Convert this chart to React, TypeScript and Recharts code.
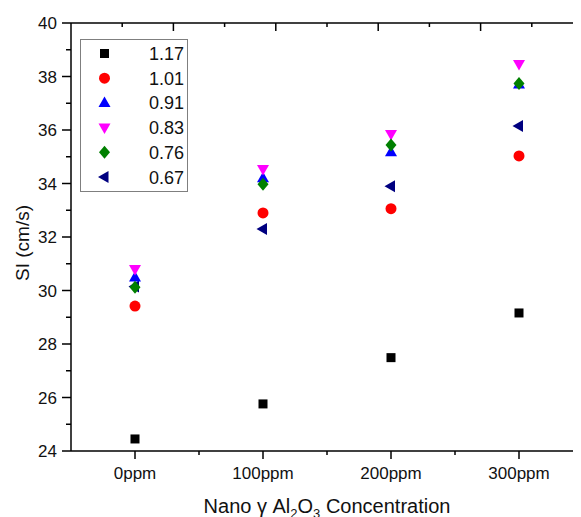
import { ScatterChart, Scatter, XAxis, YAxis, Legend, Label } from 'recharts';

// concentrations on the x axis (index = position)
const concentrations = ['0ppm', '100ppm', '200ppm', '300ppm'];
const seriesNames = ['1.17', '1.01', '0.91', '0.83', '0.76', '0.67'];

// SI values (cm/s) read per concentration
const si117 = [24.45, 25.76, 27.49, 29.16];
const si101 = [29.42, 32.9, 33.06, 35.03];
const si091 = [30.49, 34.2, 35.17, 37.7];
const si083 = [30.8, 34.54, 35.85, 38.47];
const si076 = [30.12, 33.97, 35.44, 37.74];
const si067 = [30.15, 32.3, 33.9, 36.15];

const xDomain = [-0.5, 3.5];
const yDomain = [24, 40];
const xTicks = [0, 0.5, 1, 1.5, 2, 2.5, 3];
const yTicks = [24, 25, 26, 27, 28, 29, 30, 31, 32, 33, 34, 35, 36, 37, 38, 39, 40];
// top / right frame carry their own unlabelled 0..5 scale
const frameMax = 5;
const frameTicks = [0.5, 1, 1.5, 2, 2.5, 3, 3.5, 4, 4.5];

const FONT = '"Liberation Sans", Arial, sans-serif';

// chart box
const W = 580;
const H = 509;
const MARGIN = { top: 15, right: 5, bottom: 0, left: 0 };
const Y_AXIS_W = 63;
const X_AXIS_H = 66;
const plot = {
  left: MARGIN.left + Y_AXIS_W,
  right: W - MARGIN.right,
  top: MARGIN.top,
  bottom: H - MARGIN.bottom - X_AXIS_H,
};

type Kind = 'square' | 'circle' | 'up' | 'down' | 'diamond' | 'left';

const series: { name: string; values: number[]; color: string; kind: Kind }[] = [
  { name: seriesNames[0], values: si117, color: '#000000', kind: 'square' },
  { name: seriesNames[1], values: si101, color: '#ff0000', kind: 'circle' },
  { name: seriesNames[2], values: si091, color: '#0000ff', kind: 'up' },
  { name: seriesNames[3], values: si083, color: '#ff00ff', kind: 'down' },
  { name: seriesNames[4], values: si076, color: '#008000', kind: 'diamond' },
  { name: seriesNames[5], values: si067, color: '#000080', kind: 'left' },
];

// draw order: 0.67 goes underneath so it hides at 0ppm like the original
const drawOrder = [5, 0, 1, 2, 3, 4];

function marker(kind: Kind, color: string, cx: number, cy: number) {
  switch (kind) {
    case 'square':
      return <rect x={cx - 4.5} y={cy - 4.5} width={9} height={9} fill={color} />;
    case 'circle':
      return <circle cx={cx} cy={cy} r={5.5} fill={color} />;
    case 'up':
      return <polygon points={`${cx},${cy - 6.5} ${cx - 6},${cy + 4} ${cx + 6},${cy + 4}`} fill={color} />;
    case 'down':
      return <polygon points={`${cx},${cy + 6.5} ${cx - 6},${cy - 4} ${cx + 6},${cy - 4}`} fill={color} />;
    case 'diamond':
      return <polygon points={`${cx},${cy - 6.5} ${cx + 5.5},${cy} ${cx},${cy + 6.5} ${cx - 5.5},${cy}`} fill={color} />;
    default:
      return <polygon points={`${cx - 6.5},${cy} ${cx + 4},${cy - 6} ${cx + 4},${cy + 6}`} fill={color} />;
  }
}

const BottomTick = ({ x, y, payload }: any) => {
  const major = Number.isInteger(payload.value);
  return (
    <g>
      <line x1={x} x2={x} y1={y} y2={y + (major ? 8 : 4)} stroke="#000" strokeWidth={1.5} />
      {major && (
        <text x={x} y={y + 28} textAnchor="middle" fontSize={17} fontFamily={FONT} fill="#111">
          {concentrations[payload.value]}
        </text>
      )}
    </g>
  );
};

const LeftTick = ({ x, y, payload }: any) => {
  const major = payload.value % 2 === 0;
  return (
    <g>
      <line x1={x - (major ? 9 : 5)} x2={x} y1={y} y2={y} stroke="#000" strokeWidth={1.5} />
      {major && (
        <text x={x - 14} y={y + 6} textAnchor="end" fontSize={17} fontFamily={FONT} fill="#111">
          {payload.value}
        </text>
      )}
    </g>
  );
};

// top + right edges of the Origin-style frame, ticks pointing inward
const Frame = () => {
  const pw = plot.right - plot.left;
  const ph = plot.bottom - plot.top;
  return (
    <svg width={W} height={H} style={{ position: 'absolute', left: 0, top: 0, pointerEvents: 'none' }}>
      <line x1={plot.left} x2={plot.right} y1={plot.top} y2={plot.top} stroke="#000" strokeWidth={1.5} />
      <line x1={plot.right} x2={plot.right} y1={plot.top} y2={plot.bottom} stroke="#000" strokeWidth={1.5} />
      {frameTicks.map((t) => {
        const len = Number.isInteger(t) ? 8 : 4;
        const tx = plot.left + (t / frameMax) * pw;
        const ty = plot.bottom - (t / frameMax) * ph;
        return (
          <g key={t}>
            <line x1={tx} x2={tx} y1={plot.top} y2={plot.top + len} stroke="#000" strokeWidth={1.5} />
            <line x1={plot.right - len} x2={plot.right} y1={ty} y2={ty} stroke="#000" strokeWidth={1.5} />
          </g>
        );
      })}
    </svg>
  );
};

const YTitle = ({ viewBox }: any) => {
  const cx = viewBox.x + 14;
  const cy = viewBox.y + viewBox.height / 2 + 6;
  return (
    <text x={cx} y={cy} transform={`rotate(-90 ${cx} ${cy})`} textAnchor="middle" dominantBaseline="central"
      fontSize={19} fontFamily={FONT} fill="#111">
      SI (cm/s)
    </text>
  );
};

const XTitle = ({ viewBox }: any) => {
  const cx = viewBox.x + viewBox.width / 2;
  const by = viewBox.y + 62;
  return (
    <text x={cx} y={by} textAnchor="middle" fontSize={20} fontFamily={FONT} fill="#111">
      <tspan>Nano γ Al</tspan>
      <tspan dy={5} fontSize={13}>2</tspan>
      <tspan dy={-5}>O</tspan>
      <tspan dy={5} fontSize={13}>3</tspan>
      <tspan dy={-5}> Concentration</tspan>
    </text>
  );
};

const LegendBox = () => (
  <svg width={108} height={153} style={{ display: 'block' }}>
    <rect x={0.5} y={0.5} width={107} height={152} fill="#fff" stroke="#7f7f7f" strokeWidth={1} />
    {series.map((s, i) => {
      const cy = 14.5 + i * 24.7;
      return (
        <g key={s.name}>
          {marker(s.kind, s.color, 24.5, cy)}
          <text x={104} y={cy + 6.5} textAnchor="end" fontSize={18} fontFamily={FONT} fill="#111">
            {s.name}
          </text>
        </g>
      );
    })}
  </svg>
);

export default function App() {
  return (
    <div style={{ position: 'relative', width: 573, height: H, overflow: 'hidden', background: '#fff' }}>
      <ScatterChart width={W} height={H} margin={MARGIN}>
        <XAxis
          xAxisId="x"
          dataKey="x"
          type="number"
          domain={xDomain}
          allowDataOverflow
          ticks={xTicks}
          interval={0}
          height={X_AXIS_H}
          tickSize={0}
          tickMargin={0}
          tickLine={false}
          tick={<BottomTick />}
          axisLine={{ stroke: '#000', strokeWidth: 1.5 }}
        >
          <Label content={<XTitle />} />
        </XAxis>
        <YAxis
          yAxisId="y"
          dataKey="y"
          type="number"
          domain={yDomain}
          allowDataOverflow
          ticks={yTicks}
          interval={0}
          width={Y_AXIS_W}
          tickSize={0}
          tickMargin={0}
          tickLine={false}
          tick={<LeftTick />}
          axisLine={{ stroke: '#000', strokeWidth: 1.5 }}
        >
          <Label content={<YTitle />} />
        </YAxis>
        <Legend
          layout="horizontal"
          verticalAlign="middle"
          align="center"
          content={<LegendBox />}
          wrapperStyle={{ left: 72, top: 31, width: 108, height: 153 }}
        />
        {drawOrder.map((idx) => {
          const s = series[idx];
          const data = concentrations.map((_, i) => ({ x: i, y: s.values[i] }));
          return (
            <Scatter
              key={s.name}
              name={s.name}
              data={data}
              xAxisId="x"
              yAxisId="y"
              isAnimationActive={false}
              shape={(p: any) => marker(s.kind, s.color, p.cx, p.cy)}
            />
          );
        })}
      </ScatterChart>
      <Frame />
    </div>
  );
}
